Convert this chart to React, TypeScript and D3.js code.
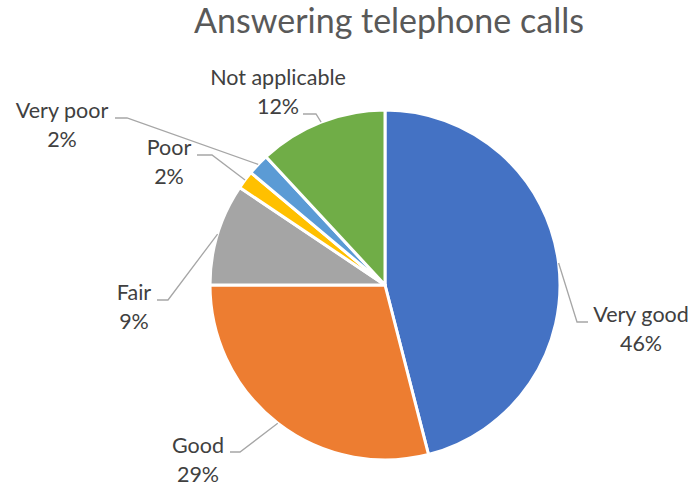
import React from "react";
import * as d3 from "d3";

const categories = ["Very good", "Good", "Fair", "Poor", "Very poor", "Not applicable"];
const values = [46, 29, 9.4, 1.7, 2.0, 11.9];
const percentLabels = ["46%", "29%", "9%", "2%", "2%", "12%"];
const colors = ["#4472C4", "#ED7D31", "#A5A5A5", "#FFC000", "#5B9BD5", "#70AD47"];
const title = "Answering telephone calls";

// label layout: center x, first baseline y, leader start, leader elbow
const labelLayout = [
  { x: 641, y: 322, sx: 588, sy: 322, ex: 577, ey: 322 },
  { x: 198, y: 453, sx: 230, sy: 452, ex: 240, ey: 452 },
  { x: 134, y: 300, sx: 157, sy: 300, ex: 168, ey: 300 },
  { x: 169, y: 155, sx: 197, sy: 155, ex: 212, ey: 155 },
  { x: 62, y: 118, sx: 115, sy: 118, ex: 127, ey: 118 },
  { x: 278, y: 85, sx: 303, sy: 114, ex: 316, ey: 114 },
];

const W = 694;
const H = 486;
const cx = 385;
const cy = 285;
const R = 175;

export default function App() {
  const pie = d3.pie<number>().sort(null).value((d) => d)(values);
  const arc = d3.arc<d3.PieArcDatum<number>>().innerRadius(0).outerRadius(R);
  const font = "Lato, 'Open Sans', sans-serif";
  return (
    <svg
      width={W}
      height={H}
      style={{ position: "absolute", left: 0, top: 0, background: "#fff" }}
      fontFamily={font}
    >
      <text x={389} y={33} textAnchor="middle" fontSize={34} fill="#595959">
        {title}
      </text>
      <g transform={`translate(${cx},${cy})`}>
        {pie.map((p, i) => (
          <path key={i} d={arc(p) || ""} fill={colors[i]} stroke="#fff" strokeWidth={3} strokeLinejoin="round" />
        ))}
      </g>
      {pie.map((p, i) => {
        const mid = (p.startAngle + p.endAngle) / 2;
        const px = cx + R * Math.sin(mid);
        const py = cy - R * Math.cos(mid);
        const L = labelLayout[i];
        return (
          <polyline
            key={"l" + i}
            points={`${L.sx},${L.sy} ${L.ex},${L.ey} ${px},${py}`}
            fill="none"
            stroke="#A6A6A6"
            strokeWidth={1.3}
          />
        );
      })}
      {categories.map((c, i) => {
        const L = labelLayout[i];
        return (
          <text key={"t" + i} x={L.x} y={L.y} textAnchor="middle" fontSize={21.5} fill="#404040">
            <tspan x={L.x}>{c}</tspan>
            <tspan x={L.x} dy={28.5}>
              {percentLabels[i]}
            </tspan>
          </text>
        );
      })}
    </svg>
  );
}
